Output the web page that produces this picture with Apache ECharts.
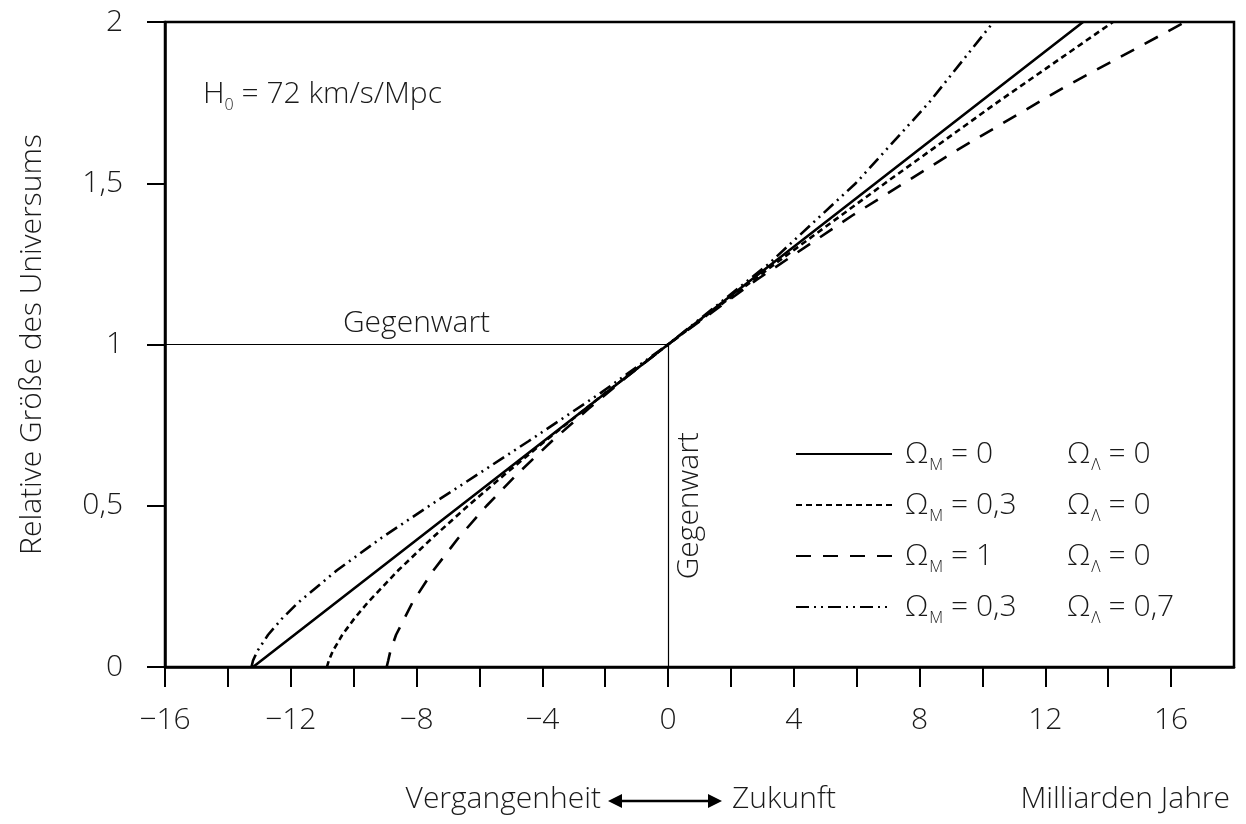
<!DOCTYPE html>
<html>
<head>
<meta charset="utf-8">
<script src="https://cdn.jsdelivr.net/npm/echarts@6/dist/echarts.min.js"></script>
<style>
  html, body { margin: 0; padding: 0; background: #fff; }
  #chart { width: 1246px; height: 824px; }
</style>
</head>
<body>
<div id="chart"></div>
<script>
// Achsen
const xTicks = [-16, -14, -12, -10, -8, -6, -4, -2, 0, 2, 4, 6, 8, 10, 12, 14, 16];
const xLabels = [-16, -12, -8, -4, 0, 4, 8, 12, 16];
const yTicks = [0, 0.5, 1, 1.5, 2];

// Legende
const seriesNames = ['m0l0', 'm03l0', 'm1l0', 'm03l07'];
const omegaM = ['0', '0,3', '1', '0,3'];
const omegaL = ['0', '0', '0', '0,7'];

// Omega_M = 0, Omega_L = 0 (durchgezogen)
const emptyT = [-13.2, -6.6, 0, 6.6, 13.2];
const emptyA = [0, 0.5, 1, 1.5, 2];

// Omega_M = 0.3, Omega_L = 0 (kurz gestrichelt)
const openT = [-10.85, -10.79, -10.66, -10.36, -9.98, -9.55, -8.58, -7.5, -6.36, -5.16, -3.92, -1.99, 0, 3.4, 6.9, 10.46, 14.15];
const openA = [0, 0.02, 0.05, 0.1, 0.15, 0.2, 0.3, 0.4, 0.5, 0.6, 0.7, 0.85, 1, 1.25, 1.5, 1.75, 2];

// Omega_M = 1, Omega_L = 0 (lang gestrichelt)
const flatT = [-8.95, -8.9, -8.83, -8.65, -8.13, -7.46, -6.67, -5.77, -4.78, -3.7, -2.54, -1.31, 0, 2.81, 5.86, 9.14, 12.64, 16.45];
const flatA = [0, 0.02, 0.05, 0.1, 0.2, 0.3, 0.4, 0.5, 0.6, 0.7, 0.8, 0.9, 1, 1.2, 1.4, 1.6, 1.8, 2];

// Omega_M = 0.3, Omega_L = 0.7 (Strich-Punkt-Punkt)
const lcdmT = [-13.25, -13.2, -13.06, -12.72, -12.28, -11.76, -10.53, -9.12, -7.59, -6.01, -4.44, -2.14, 0, 3.2, 5.97, 8.3, 10.35];
const lcdmA = [0, 0.02, 0.05, 0.1, 0.15, 0.2, 0.3, 0.4, 0.5, 0.6, 0.7, 0.85, 1, 1.25, 1.5, 1.75, 2];

const FONT = '"Open Sans", "DejaVu Sans", sans-serif';
const INK = '#1a1a1a';
const W = 300; // leichte Schrift wie im Original
const FS = 30;

const pairs = (t, a) => t.map((v, i) => [v, a[i]]);
const fmtNum = (v) => (v < 0 ? '\u2212' + Math.abs(v) : String(v)).replace('.', ',');
const txt = (size) => ({ fontFamily: FONT, fontSize: size, fontWeight: W, color: INK });

const chart = echarts.init(document.getElementById('chart'));

const lineSeries = (name, t, a, type, extra) => Object.assign({
  name: name,
  type: 'line',
  data: pairs(t, a),
  symbol: 'none',
  showSymbol: false,
  animation: false,
  lineStyle: { color: '#000', width: 2.6, type: type, cap: 'butt' },
  itemStyle: { color: '#000' },
  z: 3
}, extra || {});

const option = {
  backgroundColor: '#fff',
  textStyle: { fontFamily: FONT, color: INK },
  title: [
    {
      text: '{h|H}{s|0}{h| = 72 km/s/Mpc}',
      left: 198, top: 70,
      textStyle: {
        rich: {
          h: Object.assign(txt(FS), { lineHeight: 38 }),
          s: Object.assign(txt(16), { lineHeight: 14, verticalAlign: 'bottom' })
        }
      }
    },
    { text: 'Vergangenheit', right: 640, top: 779, textStyle: txt(FS) },
    { text: 'Zukunft', left: 727, top: 779, textStyle: txt(FS) },
    { text: 'Milliarden Jahre', right: 11, top: 779, textStyle: txt(FS) }
  ],
  graphic: [
    { type: 'line', shape: { x1: 614, y1: 801, x2: 716, y2: 801 }, style: { stroke: '#000', lineWidth: 2.5 } },
    { type: 'polygon', shape: { points: [[608, 801], [622, 794], [622, 808]] }, style: { fill: '#000' } },
    { type: 'polygon', shape: { points: [[722, 801], [708, 794], [708, 808]] }, style: { fill: '#000' } }
  ],
  grid: {
    left: 165, right: 12, top: 22, bottom: 157,
    show: true, borderColor: '#000', borderWidth: 2.5, backgroundColor: 'transparent'
  },
  legend: {
    orient: 'vertical',
    left: 790, top: 434,
    itemWidth: 96, itemHeight: 14, itemGap: 17,
    data: seriesNames,
    selectedMode: false,
    itemStyle: { opacity: 0 },
    formatter: (name) => {
      const i = seriesNames.indexOf(name);
      return '{g|}{o|\u03A9}{s|M}{v|= ' + omegaM[i] + '}{o|\u03A9}{s|\u039B}{w|= ' + omegaL[i] + '}';
    },
    textStyle: {
      rich: {
        g: { width: 8 },
        o: Object.assign(txt(FS), { lineHeight: 38 }),
        s: Object.assign(txt(16), { lineHeight: 14, verticalAlign: 'bottom', padding: [0, 8, 0, 1] }),
        v: Object.assign(txt(FS), { lineHeight: 38, width: 116 }),
        w: Object.assign(txt(FS), { lineHeight: 38 })
      }
    }
  },
  xAxis: {
    type: 'value',
    min: -16, max: 18,
    axisLine: { show: true, onZero: false, lineStyle: { color: '#000', width: 2.5 } },
    axisTick: { show: true, length: 20, customValues: xTicks, lineStyle: { color: '#000', width: 2 } },
    axisLabel: Object.assign(txt(FS), { customValues: xLabels, margin: 38, formatter: fmtNum }),
    splitLine: { show: false }
  },
  yAxis: {
    type: 'value',
    min: 0, max: 2, interval: 0.5,
    name: 'Relative Größe des Universums',
    nameLocation: 'middle',
    nameRotate: 90,
    nameGap: 118,
    nameTextStyle: txt(FS),
    axisLine: { show: true, onZero: false, lineStyle: { color: '#000', width: 2.5 } },
    axisTick: { show: true, length: 18, customValues: yTicks, lineStyle: { color: '#000', width: 2 } },
    axisLabel: Object.assign(txt(FS), { margin: 42, formatter: fmtNum }),
    splitLine: { show: false }
  },
  series: [
    lineSeries('m0l0', emptyT, emptyA, 'solid', {
      markLine: {
        silent: true,
        symbol: ['none', 'none'],
        animation: false,
        lineStyle: { color: '#000', width: 1.2, type: 'solid' },
        label: Object.assign(txt(FS), { show: true, formatter: 'Gegenwart', distance: 6 }),
        data: [
          [{ coord: [-16, 1], label: { position: 'insideMiddleTop' } }, { coord: [0, 1] }],
          [{ coord: [0, 0], label: { position: 'insideMiddleBottom' } }, { coord: [0, 1] }]
        ]
      }
    }),
    lineSeries('m03l0', openT, openA, [6, 4]),
    lineSeries('m1l0', flatT, flatA, [15, 12]),
    lineSeries('m03l07', lcdmT, lcdmA, [13, 5, 2, 5, 2, 5])
  ]
};

chart.setOption(option);
</script>
</body>
</html>
